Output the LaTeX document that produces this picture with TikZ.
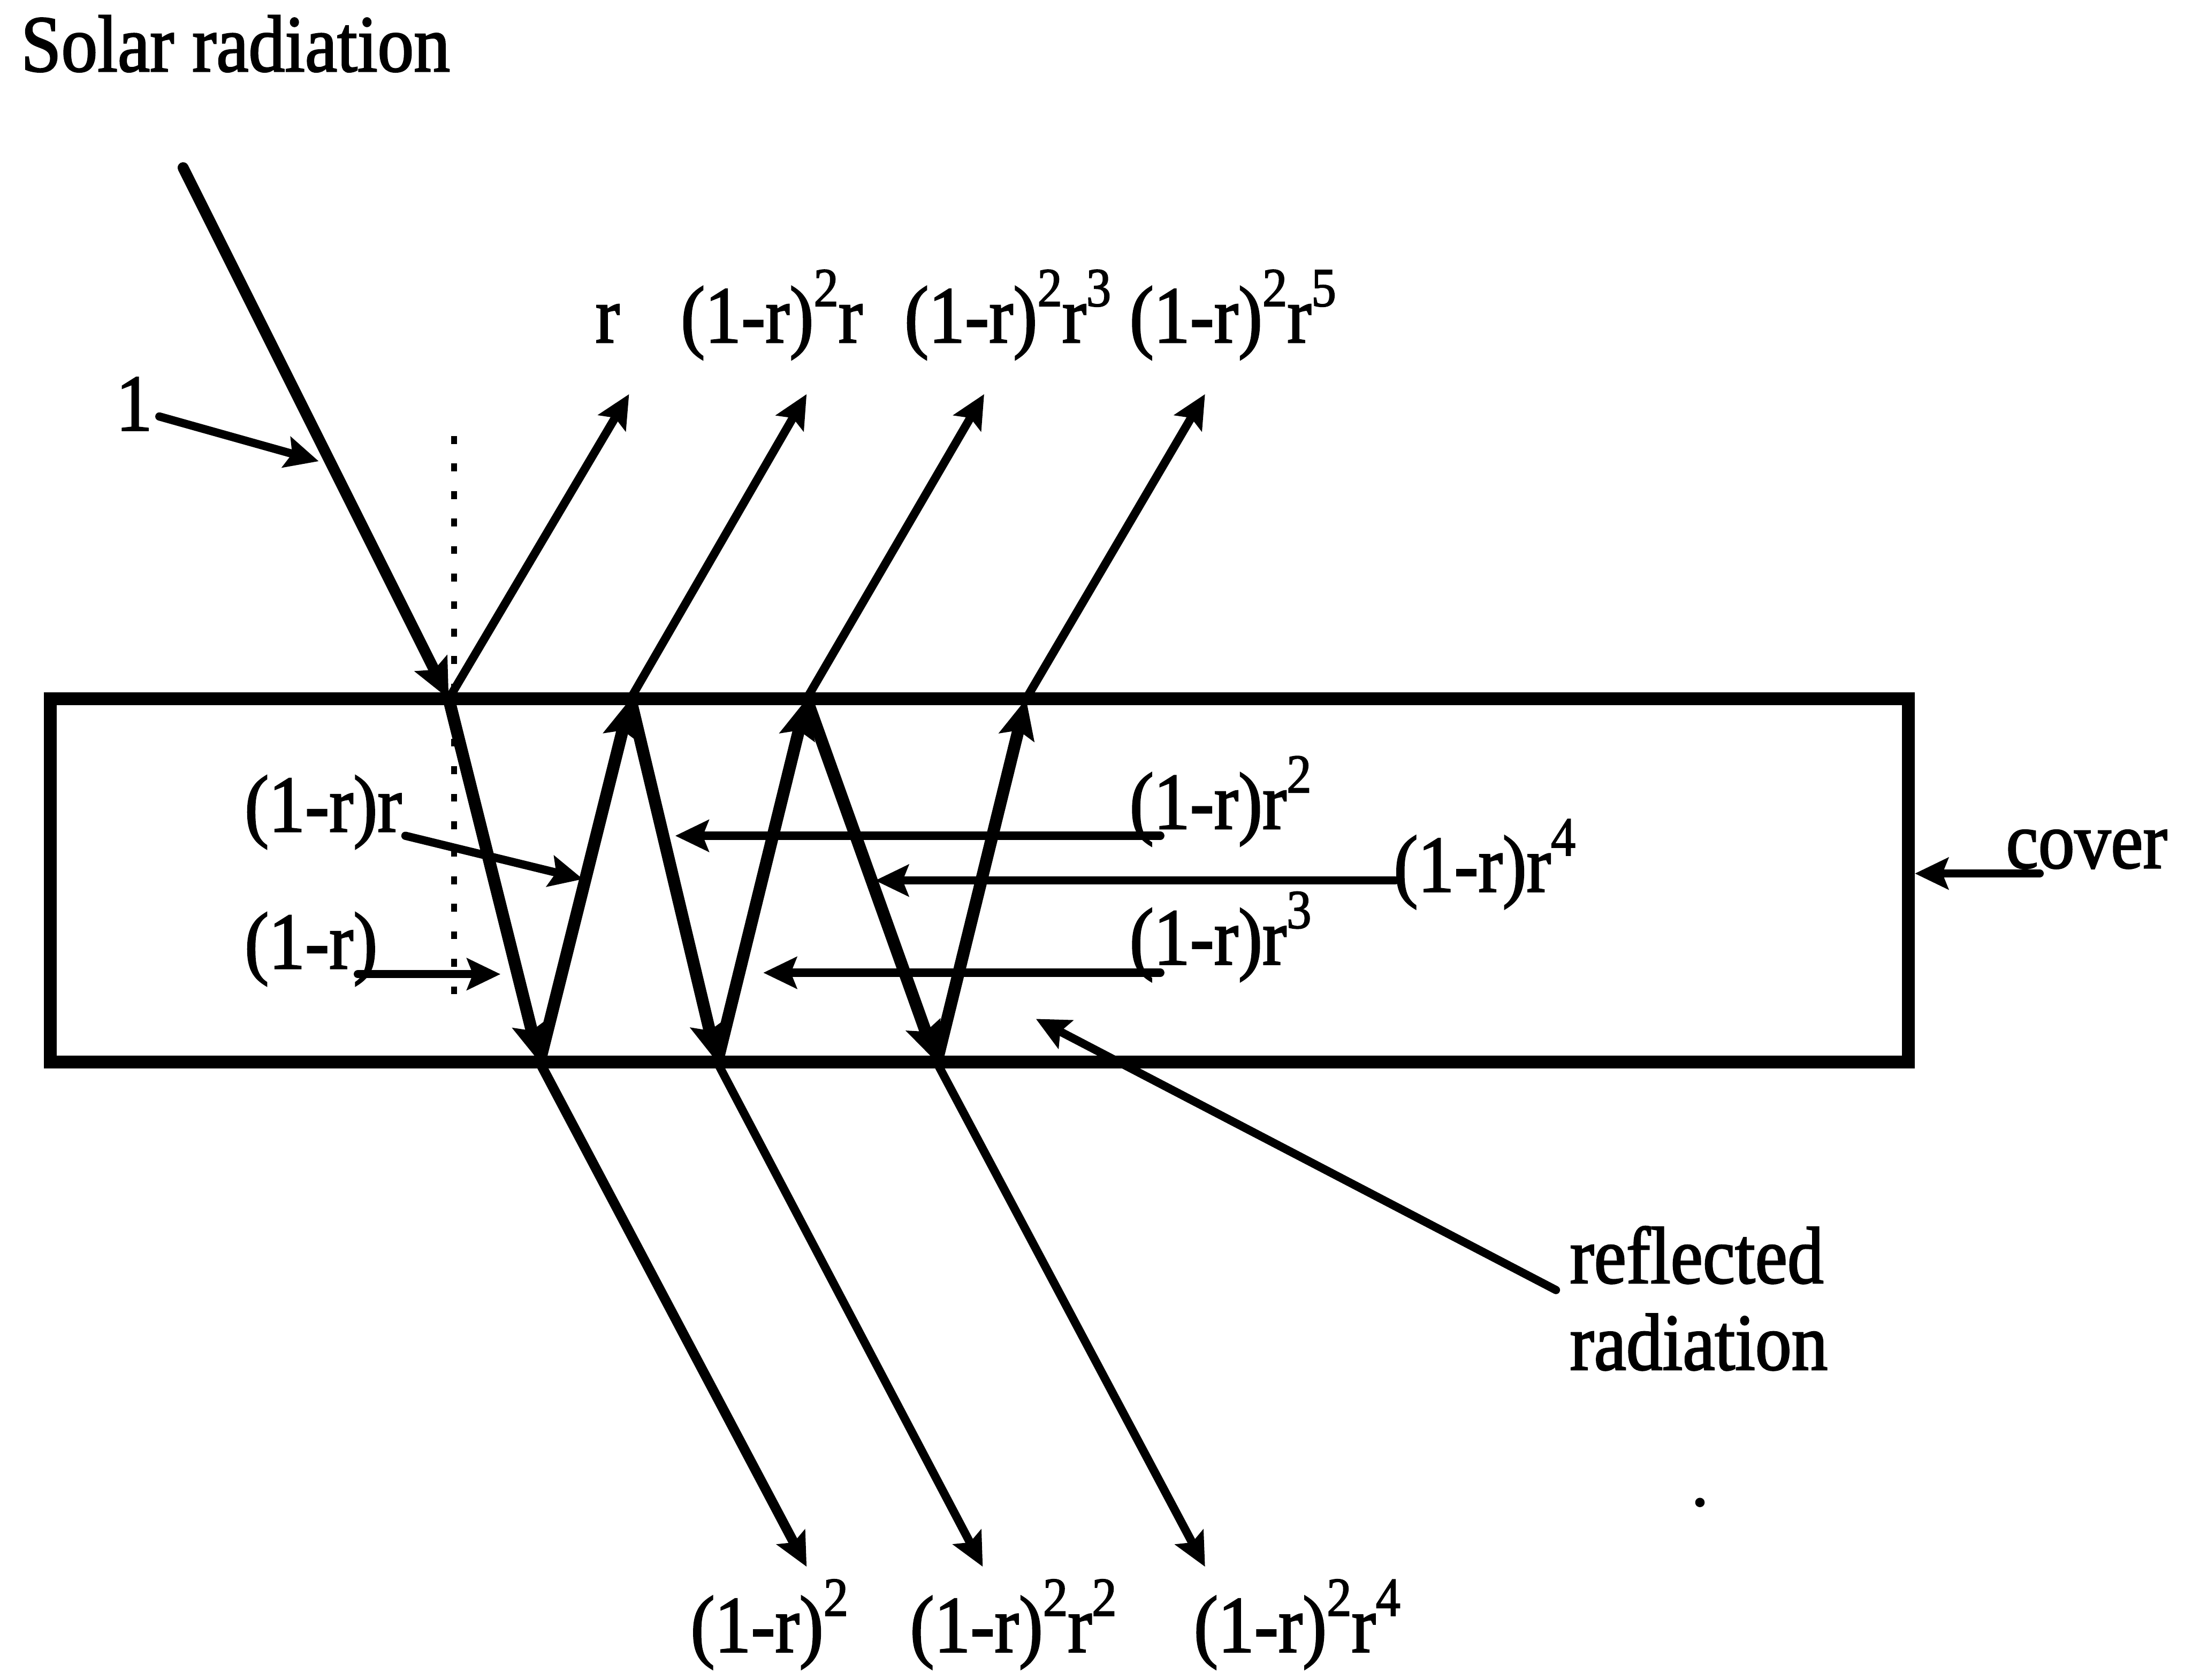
\documentclass[tikz,border=0pt]{standalone}
\usepackage{fontspec}
\setmainfont{Liberation Serif}[FakeStretch=0.9,FakeBold=1.8]
\usetikzlibrary{arrows.meta}
\newcommand\sups[1]{\raisebox{0.45em}{\fontsize{28}{28}\selectfont #1}}
\begin{document}
\begin{tikzpicture}[x=0.025cm,y=-0.025cm,
  lbl/.style={anchor=base west, inner sep=0pt, outer sep=0pt, font=\fontsize{41}{48}\selectfont},
  tip/.style={-{Stealth[length=17pt,width=16pt,inset=3pt]}},
  bigtip/.style={-{Stealth[length=20pt,width=18pt,inset=3.5pt]}},
  inray/.style={line width=5.6pt, bigtip, line cap=round},
  zig/.style={line width=6.2pt, bigtip},
  outray/.style={line width=4.3pt, tip},
  pointer/.style={line width=4.2pt, tip, line cap=round},
  coverbox/.style={draw, line width=6.5pt, inner sep=0pt, minimum width=33.225cm, minimum height=6.5cm}
]
\useasboundingbox (0,0) rectangle (1568,1202);

% cover
\node[coverbox] (box) at (700.5,630) {};

% points
\coordinate (P0) at (131,120);
\coordinate (A)  at (321,500);
\coordinate (B1) at (386,760);
\coordinate (T1) at (451,500);
\coordinate (B2) at (513,760);
\coordinate (T2) at (577,500);
\coordinate (B3) at (670,760);
\coordinate (T3) at (734,500);

% outgoing ends
\coordinate (U0) at (450,282);
\coordinate (U1) at (577,282);
\coordinate (U2) at (704,282);
\coordinate (U3) at (862,282);
\coordinate (D1) at (577,1121);
\coordinate (D2) at (703,1121);
\coordinate (D3) at (862,1121);

% dotted normal
\coordinate (N1) at (325,312);
\coordinate (N2) at (325,722);
\draw[line width=3pt, dash pattern=on 4pt off 10pt] (N1) -- (N2);

% incident
\draw[inray] (P0) -- (A);

% zig-zag inside cover
\draw[zig] (A) -- (B1);
\draw[zig] (B1) -- (T1);
\draw[zig] (T1) -- (B2);
\draw[zig] (B2) -- (T2);
\draw[zig] (T2) -- (B3);
\draw[zig] (B3) -- (T3);

% leaving the cover
\draw[outray] (A) -- (U0);
\draw[outray] (T1) -- (U1);
\draw[outray] (T2) -- (U2);
\draw[outray] (T3) -- (U3);
\draw[outray, line width=5pt] (B1) -- (D1);
\draw[outray] (B2) -- (D2);
\draw[outray] (B3) -- (D3);

% labels
\node[lbl] (lsolar) at (15,51) {Solar radiation};
\node[lbl] (lone) at (83,308) {1};
\node[lbl] (lr) at (426,245) {r};
\node[lbl] (lu1) at (487,245) {(1-r)\sups{2}r};
\node[lbl] (lu2) at (647,245) {(1-r)\sups{2}r\sups{3}};
\node[lbl] (lu3) at (808,245) {(1-r)\sups{2}r\sups{5}};
\node[lbl] (ld1) at (494,1182) {(1-r)\sups{2}};
\node[lbl] (ld2) at (651,1182) {(1-r)\sups{2}r\sups{2}};
\node[lbl] (ld3) at (854,1182) {(1-r)\sups{2}r\sups{4}};
\node[lbl] (lir) at (175,595) {(1-r)r};
\node[lbl] (li) at (175,693) {(1-r)};
\node[lbl] (lh1) at (808,593) {(1-r)r\sups{2}};
\node[lbl] (lh2) at (997,638) {(1-r)r\sups{4}};
\node[lbl] (lh3) at (808,690) {(1-r)r\sups{3}};
\node[lbl] (lcover) at (1435,621) {cover};
\node[lbl] (lrefl1) at (1123,918) {reflected};
\node[lbl] (lrefl2) at (1123,980) {radiation};

% pointer arrows
\coordinate (p1s) at (114,298);  \coordinate (p1e) at (228,330);
\draw[pointer] (p1s) -- (p1e);
\coordinate (p2s) at (290,598);  \coordinate (p2e) at (417,629);
\draw[pointer] (p2s) -- (p2e);
\coordinate (p3s) at (256,697);  \coordinate (p3e) at (358,697);
\draw[pointer] (p3s) -- (p3e);

\coordinate (h1s) at (830,598);  \coordinate (h1e) at (483,598);
\draw[pointer] (h1s) -- (h1e);
\coordinate (h2s) at (998,630);  \coordinate (h2e) at (626,630);
\draw[pointer] (h2s) -- (h2e);
\coordinate (h3s) at (830,696);  \coordinate (h3e) at (546,696);
\draw[pointer] (h3s) -- (h3e);

\coordinate (cs) at (1459,625);
\draw[pointer] (cs) -- (box.east |- cs);

\coordinate (rs) at (1113,923);  \coordinate (re) at (741,729);
\draw[pointer] (rs) -- (re);

% stray dot
\fill (1216,1075) circle (2.4pt);
\end{tikzpicture}
\end{document}
